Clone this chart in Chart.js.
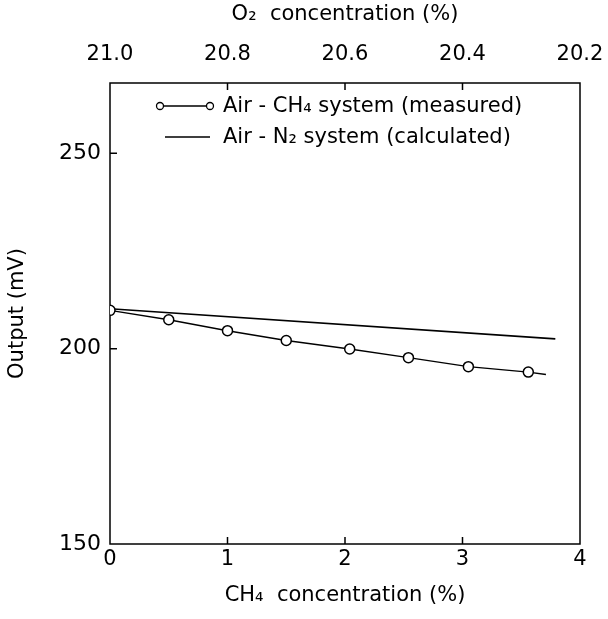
<!DOCTYPE html>
<html>
<head>
<meta charset="utf-8">
<script src="https://cdn.jsdelivr.net/npm/chart.js@4.4.1/dist/chart.umd.min.js"></script>
<style>
  body { margin: 0; background: #fff; }
</style>
</head>
<body>
<canvas id="outputChart" width="608" height="619"></canvas>
<script>
// measured: Air - CH4 system (last point is the line end, no marker)
var ch4Measured = [0, 0.5, 1.0, 1.5, 2.04, 2.54, 3.05, 3.56, 3.71];
var outMeasured = [209.8, 207.4, 204.6, 202.1, 199.9, 197.7, 195.4, 194.0, 193.4];
var markerShown = [1, 1, 1, 1, 1, 1, 1, 1, 0];

// calculated: Air - N2 system
var ch4Calc = [0, 3.79];
var outCalc = [210.2, 202.5];

var yTicks = [150, 200, 250];
var legendLabels = ['Air - CH\u2084 system (measured)', 'Air - N\u2082 system (calculated)'];

var FONT = { family: 'DejaVu Sans', size: 21 };
var YFONT = { family: 'DejaVu Sans', size: 22 };

function toPoints(xs, ys) {
  return xs.map(function (x, i) { return { x: x, y: ys[i] }; });
}

// box round the plot and short inward ticks
var frame = {
  id: 'frame',
  beforeDatasetsDraw: function (chart) {
    var ctx = chart.ctx, a = chart.chartArea, s = chart.scales;
    ctx.save();
    ctx.strokeStyle = '#000';
    ctx.lineWidth = 1.5;
    ctx.strokeRect(a.left, a.top, a.right - a.left, a.bottom - a.top);
    ctx.beginPath();
    [1, 2, 3].forEach(function (v) {
      var x = s.x.getPixelForValue(v);
      ctx.moveTo(x, a.bottom); ctx.lineTo(x, a.bottom - 7);
    });
    [20.8, 20.6, 20.4].forEach(function (v) {
      var x = s.x2.getPixelForValue(v);
      ctx.moveTo(x, a.top); ctx.lineTo(x, a.top + 7);
    });
    [200, 250].forEach(function (v) {
      var y = s.y.getPixelForValue(v);
      ctx.moveTo(a.left, y); ctx.lineTo(a.left + 7, y);
    });
    ctx.stroke();
    ctx.restore();
  }
};

// legend drawn inside the plot
var insideLegend = {
  id: 'insideLegend',
  afterDraw: function (chart) {
    var ctx = chart.ctx, a = chart.chartArea;
    var x0 = a.left + 50, x1 = a.left + 100, tx = a.left + 113;
    var y0 = a.top + 23, y1 = a.top + 54;
    ctx.save();
    ctx.strokeStyle = '#000';
    ctx.lineWidth = 1.3;
    ctx.beginPath();
    ctx.moveTo(x0, y0); ctx.lineTo(x1, y0);
    ctx.moveTo(x0 + 5, y1); ctx.lineTo(x1, y1);
    ctx.stroke();
    [x0, x1].forEach(function (x) {
      ctx.beginPath();
      ctx.arc(x, y0, 3.5, 0, Math.PI * 2);
      ctx.fillStyle = '#fff';
      ctx.fill();
      ctx.stroke();
    });
    ctx.fillStyle = '#000';
    ctx.font = FONT.size + 'px ' + FONT.family;
    ctx.textBaseline = 'middle';
    ctx.fillText(legendLabels[0], tx, y0 + 1);
    ctx.fillText(legendLabels[1], tx, y1 + 1);
    ctx.restore();
  }
};

var noGrid = { display: false, drawTicks: false };

var ctx = document.getElementById('outputChart').getContext('2d');
var chart = new Chart(ctx, {
  type: 'scatter',
  data: {
    datasets: [{
      label: legendLabels[0],
      data: toPoints(ch4Measured, outMeasured),
      showLine: true,
      borderColor: '#000',
      borderWidth: 1.4,
      pointRadius: markerShown.map(function (m) { return m ? 5 : 0; }),
      pointBackgroundColor: '#fff',
      pointBorderColor: '#000',
      pointBorderWidth: 1.5
    }, {
      label: legendLabels[1],
      data: toPoints(ch4Calc, outCalc),
      showLine: true,
      borderColor: '#000',
      borderWidth: 1.6,
      pointRadius: 0
    }]
  },
  options: {
    responsive: false,
    animation: false,
    layout: { padding: { left: 0, right: 28, top: 0, bottom: 0 } },
    plugins: { legend: { display: false }, tooltip: { enabled: false } },
    scales: {
      x: {
        type: 'linear', position: 'bottom', min: 0, max: 4,
        grid: noGrid, border: { display: false },
        ticks: { stepSize: 1, padding: 3, color: '#000', font: FONT },
        title: { display: true, text: 'CH\u2084  concentration (%)', color: '#000', font: FONT, padding: { top: 0, bottom: 11 } },
        afterFit: function (s) { s.height = 75; s.paddingLeft = 0; s.paddingRight = 0; }
      },
      x2: {
        type: 'linear', position: 'top', min: 20.2, max: 21.0, reverse: true,
        grid: noGrid, border: { display: false },
        ticks: { stepSize: 0.2, padding: 16, color: '#000', font: FONT,
          callback: function (v) { return Number(v).toFixed(1); } },
        title: { display: true, text: 'O\u2082  concentration (%)', color: '#000', font: FONT, padding: { top: 2, bottom: 0 } },
        afterFit: function (s) { s.height = 83; s.paddingLeft = 0; s.paddingRight = 0; }
      },
      y: {
        type: 'linear', min: 150, max: 268,
        grid: noGrid, border: { display: false },
        ticks: { stepSize: 50, padding: 9, color: '#000', font: YFONT },
        afterBuildTicks: function (s) {
          s.ticks = yTicks.map(function (v) { return { value: v }; });
        },
        title: { display: true, text: 'Output (mV)', color: '#000', font: FONT, padding: { top: 5, bottom: 0 } },
        afterFit: function (s) { s.width = 110; s.paddingTop = 0; s.paddingBottom = 0; }
      }
    }
  },
  plugins: [frame, insideLegend]
});
</script>
</body>
</html>
